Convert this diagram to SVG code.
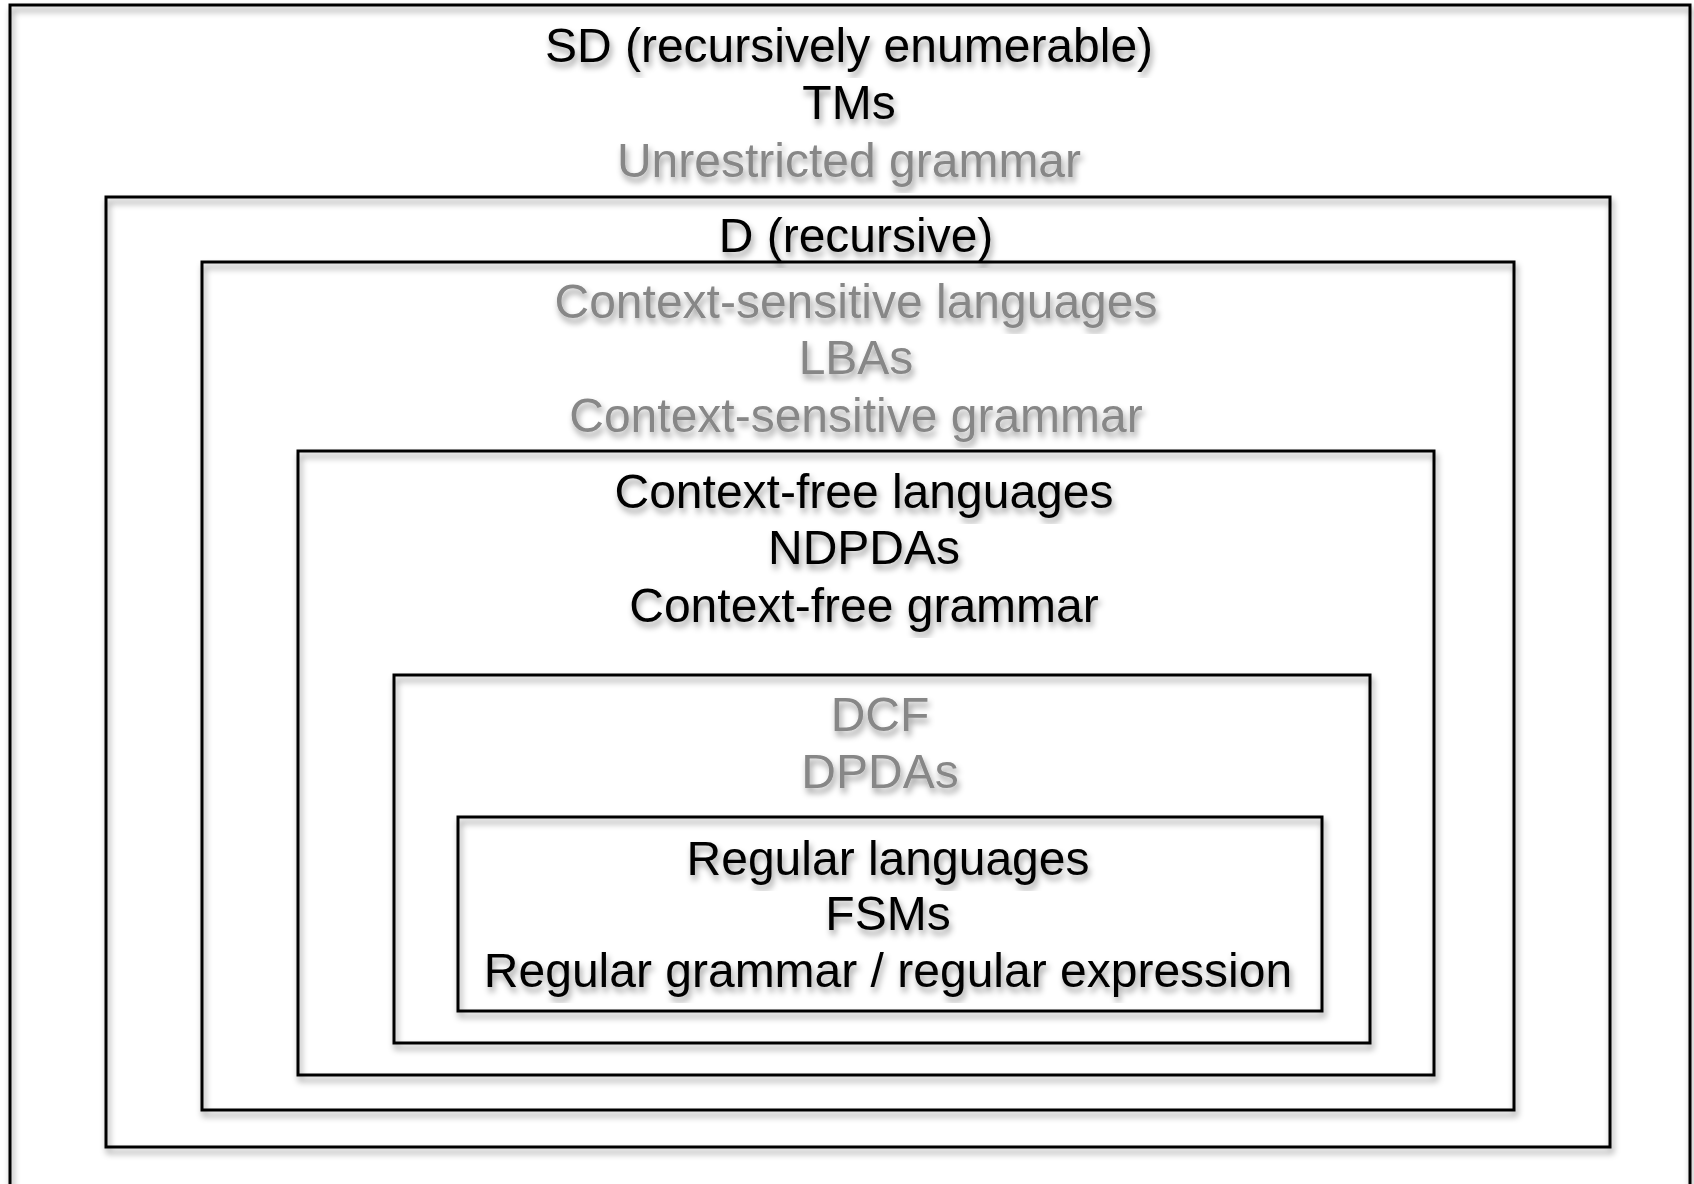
<svg xmlns="http://www.w3.org/2000/svg" width="1694" height="1184" viewBox="0 0 1694 1184">
<defs>
<filter id="sh" x="-5%" y="-5%" width="110%" height="115%">
<feDropShadow dx="2" dy="5" stdDeviation="3" flood-color="#000" flood-opacity="0.4"/>
</filter>
</defs>
<style>
.box{fill:none;stroke:#000;stroke-width:3;filter:url(#sh)}
text{font-family:"Liberation Sans",Arial,Helvetica,sans-serif;font-size:48px;text-anchor:middle;filter:url(#sh)}
.k{fill:#000}
.g{fill:#878787}
</style>
<rect width="1694" height="1184" fill="#fff"/>
<g id="sd">
<rect class="box" x="10" y="5" width="1680" height="1200"/>
<text class="k" x="849" y="62">SD (recursively enumerable)</text>
<text class="k" x="849" y="119">TMs</text>
<text class="g" x="849" y="177">Unrestricted grammar</text>
</g>
<g id="d">
<rect class="box" x="106" y="197" width="1504" height="950"/>
<text class="k" x="856" y="252">D (recursive)</text>
</g>
<g id="csl">
<rect class="box" x="202" y="262" width="1312" height="848"/>
<text class="g" x="856" y="318">Context-sensitive languages</text>
<text class="g" x="856" y="374">LBAs</text>
<text class="g" x="856" y="432">Context-sensitive grammar</text>
</g>
<g id="cfl">
<rect class="box" x="298" y="451" width="1136" height="624"/>
<text class="k" x="864" y="508">Context-free languages</text>
<text class="k" x="864" y="564">NDPDAs</text>
<text class="k" x="864" y="622">Context-free grammar</text>
</g>
<g id="dcf">
<rect class="box" x="394" y="675" width="976" height="368"/>
<text class="g" x="880" y="731">DCF</text>
<text class="g" x="880" y="788">DPDAs</text>
</g>
<g id="regular">
<rect class="box" x="458" y="817" width="864" height="194"/>
<text class="k" x="888" y="875">Regular languages</text>
<text class="k" x="888" y="930">FSMs</text>
<text class="k" x="888" y="987">Regular grammar / regular expression</text>
</g>
<g id="connectors"/>
</svg>
